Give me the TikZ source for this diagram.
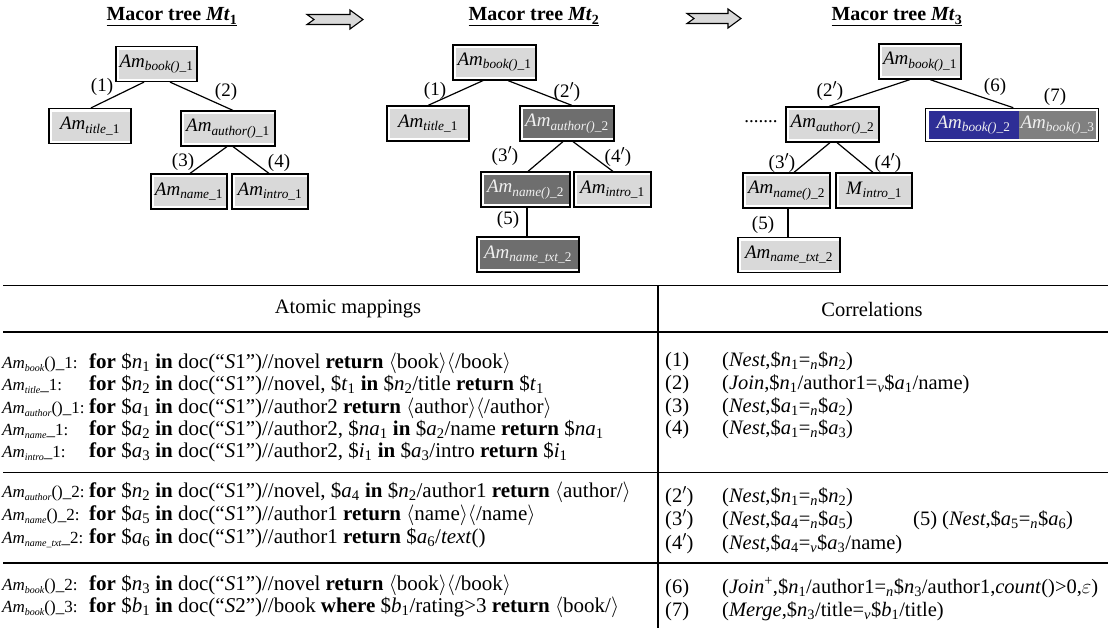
\documentclass[tikz,border=0pt]{standalone}
\usepackage{fontspec}
\setmainfont{Liberation Serif}
\usetikzlibrary{fit}
\definecolor{lgray}{RGB}{217,217,217}
\definecolor{dgray}{RGB}{110,110,110}
\definecolor{mgray}{RGB}{128,128,128}
\definecolor{nblue}{RGB}{46,46,150}
\definecolor{ltext}{RGB}{240,240,240}
\newcommand\myv[2]{\$\textit{#1}\textsubscript{#2}}
\newcommand\myeq[1]{=\textsubscript{\textit{#1}}}
\newcommand\mykw[1]{\textbf{#1}}
\newcommand\mylan{$\langle$}
\newcommand\myran{$\rangle$}
\newcommand\myam[2]{\makebox[87pt][l]{\fontsize{17}{18}\selectfont\textit{Am}\raisebox{-0.22em}{\fontsize{10}{11}\selectfont\textit{#1}}#2}}
\newcommand\mydoc[1]{doc(“\textit{S}#1”)}
\newcommand\mypr{$'$}
\newcommand\boxam[2]{\textit{Am}\textsubscript{\textit{#1}#2}}
\tikzset{
  amnode/.style={draw, line width=1.2pt, fill=white, minimum height=35pt, inner sep=0pt,
    font=\fontsize{19}{20}\selectfont,
    path picture={\fill[#1] ([shift={(2.5pt,-3pt)}]path picture bounding box.north west) rectangle ([shift={(-1.5pt,3pt)}]path picture bounding box.south east);}},
  amlight/.style={amnode=lgray},
  amdark/.style={amnode=dgray, text=ltext},
  conn/.style={line width=1.2pt},
  lab/.style={inner sep=0pt, font=\fontsize{19}{20}\selectfont},
  ttl/.style={inner sep=0pt, font=\fontsize{20}{22}\selectfont\bfseries},
  bigarrow/.style={fill=lgray, draw=black, line width=1.1pt, line join=miter},
  rule/.style={line width=1.5pt},
  tabtxt/.style={anchor=base west, inner sep=0pt, font=\fontsize{21}{22}\selectfont},
  cortxt/.style={anchor=base west, inner sep=0pt, font=\fontsize{20.5}{22}\selectfont},
  hdr/.style={inner sep=0pt, font=\fontsize{20.5}{22}\selectfont}
}
\begin{document}
\begin{tikzpicture}[x=1pt,y=-1pt]
\useasboundingbox (0,0) rectangle (1110,633);

% titles
\node[ttl] (tt1) at (172,17) {\underline{Macor tree \textit{Mt}\textsubscript{1}}};
\node[ttl] (tt2) at (534,17) {\underline{Macor tree \textit{Mt}\textsubscript{2}}};
\node[ttl] (tt3) at (897,17) {\underline{Macor tree \textit{Mt}\textsubscript{3}}};

% big arrows
\draw[bigarrow] (307,14.5) -- (350,14.5) -- (350,10) -- (363,19.5) -- (350,29) -- (350,24.5) -- (307,24.5) -- (314,19.5) -- cycle;
\draw[bigarrow] (687,13.5) -- (728,13.5) -- (728,9) -- (741,18.5) -- (728,28) -- (728,23.5) -- (687,23.5) -- (694,18.5) -- cycle;

% ---------- Mt1
\node[amlight, minimum width=81pt] (b1) at (156.5,64) {\boxam{book()\_}{1}};
\node[amlight, minimum width=82pt] (t1) at (90,126) {\boxam{title\_}{1}};
\node[amlight, minimum width=94pt] (a1) at (228,128.5) {\boxam{author()\_}{1}};
\node[amlight, minimum width=76pt] (n1) at (189,191.5) {\boxam{name\_}{1}};
\node[amlight, minimum width=76pt] (i1) at (270,191.5) {\boxam{intro\_}{1}};
\draw[conn] ([xshift=-12.5pt]b1.south) -- ([xshift=1pt]t1.north);
\draw[conn] ([xshift=13.5pt]b1.south) -- ([xshift=5pt]a1.north);
\draw[conn] ([xshift=-1pt]a1.south) -- ([xshift=1pt]n1.north);
\draw[conn] ([xshift=5pt]a1.south) -- ([xshift=-1pt]i1.north);
\node[lab] (l11) at (102,87) {(1)};
\node[lab] (l12) at (226,92) {(2)};
\node[lab] (l13) at (183,162) {(3)};
\node[lab] (l14) at (279,163) {(4)};

% ---------- Mt2
\node[amlight, minimum width=83pt] (b2) at (494.5,62.5) {\boxam{book()\_}{1}};
\node[amlight, minimum width=82pt] (t2) at (428,123.5) {\boxam{title\_}{1}};
\node[amdark, minimum width=94pt] (a2) at (567,123.5) {\boxam{author()\_}{2}};
\node[amdark, minimum width=89pt] (n2) at (525.5,189.5) {\boxam{name()\_}{2}};
\node[amlight, minimum width=77pt] (i2) at (612.5,189.5) {\boxam{intro\_}{1}};
\node[amdark, minimum width=102pt] (x2) at (528,254.5) {\boxam{name\_txt\_}{2}};
\draw[conn] ([xshift=-11.5pt]b2.south) -- (t2.north);
\draw[conn] ([xshift=13.5pt]b2.south) -- ([xshift=5pt]a2.north);
\draw[conn] ([xshift=-4pt]a2.south) -- ([xshift=2.5pt]n2.north);
\draw[conn] ([xshift=6pt]a2.south) -- ([xshift=0.5pt]i2.north);
\draw[conn] ([xshift=1.5pt]n2.south) -- ([xshift=1.5pt]n2.south |- x2.north);
\node[lab] (l21) at (435,91) {(1)};
\node[lab] (l22) at (567,92) {(2\mypr)};
\node[lab] (l23) at (505,156) {(3\mypr)};
\node[lab] (l24) at (618,157) {(4\mypr)};
\node[lab] (l25) at (508,220) {(5)};

% ---------- Mt3
\node[amlight, minimum width=82pt] (b3) at (920,61.5) {\boxam{book()\_}{1}};
\node[amlight, minimum width=93pt] (a3) at (832.5,124.5) {\boxam{author()\_}{2}};
\node[lab] (dots) at (761,122) {.......};
\node[fill=nblue, text=ltext, minimum width=90pt, minimum height=28pt, inner sep=0pt, font=\fontsize{19}{20}\selectfont] (bk2) at (973.5,125) {\boxam{book()\_}{2}};
\node[fill=mgray, text=ltext, minimum width=77pt, minimum height=28pt, inner sep=0pt, font=\fontsize{19}{20}\selectfont] (bk3) at (1057.5,125) {\boxam{book()\_}{3}};
\node[draw, line width=1.2pt, inner sep=2.5pt, fit=(bk2)(bk3)] (c3) {};
\node[amlight, minimum width=87pt] (n3) at (786.5,190.5) {\boxam{name()\_}{2}};
\node[amlight, minimum width=76pt] (i3) at (874,190.5) {\textit{M}\textsubscript{\textit{intro\_}1}};
\node[amlight, minimum width=102pt] (x3) at (789,255) {\boxam{name\_txt\_}{2}};
\draw[conn] ([xshift=-10pt]b3.south) -- ([xshift=-3.5pt]a3.north);
\draw[conn] ([xshift=10pt]b3.south) -- ([xshift=1pt]c3.north);
\draw[conn] ([xshift=-2.5pt]a3.south) -- ([xshift=7.5pt]n3.north);
\draw[conn] ([xshift=4.5pt]a3.south) -- ([xshift=-1pt]i3.north);
\draw[conn] ([xshift=1.5pt]n3.south) -- ([xshift=1.5pt]n3.south |- x3.north);
\node[lab] (l32) at (830,91) {(2\mypr)};
\node[lab] (l36) at (995,87) {(6)};
\node[lab] (l37) at (1055,97) {(7)};
\node[lab] (l33) at (782,163) {(3\mypr)};
\node[lab] (l34) at (888,163) {(4\mypr)};
\node[lab] (l35) at (763,225) {(5)};

% ---------- table rules
\draw[rule] (3,285.5) -- (1108,285.5);
\draw[rule] (3,332) -- (1108,332);
\draw[rule] (3,472.5) -- (1108,472.5);
\draw[rule] (3,563) -- (1108,563);
\draw[rule] (658,285.5) -- (658,628);

\node[hdr] (hA) at (348,309) {Atomic mappings};
\node[hdr] (hC) at (872,309) {Correlations};

% left column
\node[tabtxt] (r1) at (2,368) {\myam{book}{()\_1:}\mykw{for} \myv{n}{1} \mykw{in} \mydoc{1}//novel \mykw{return} \mylan book\myran\mylan/book\myran};
\node[tabtxt] (r2) at (2,390) {\myam{title}{\_1:}\mykw{for} \myv{n}{2} \mykw{in} \mydoc{1}//novel, \myv{t}{1} \mykw{in} \myv{n}{2}/title \mykw{return} \myv{t}{1}};
\node[tabtxt] (r3) at (2,413) {\myam{author}{()\_1:}\mykw{for} \myv{a}{1} \mykw{in} \mydoc{1}//author2 \mykw{return} \mylan author\myran\mylan/author\myran};
\node[tabtxt] (r4) at (2,435) {\myam{name}{\_1:}\mykw{for} \myv{a}{2} \mykw{in} \mydoc{1}//author2, \myv{na}{1} \mykw{in} \myv{a}{2}/name \mykw{return} \myv{na}{1}};
\node[tabtxt] (r5) at (2,457) {\myam{intro}{\_1:}\mykw{for} \myv{a}{3} \mykw{in} \mydoc{1}//author2, \myv{i}{1} \mykw{in} \myv{a}{3}/intro \mykw{return} \myv{i}{1}};

\node[tabtxt] (r6) at (2,497) {\myam{author}{()\_2:}\mykw{for} \myv{n}{2} \mykw{in} \mydoc{1}//novel, \myv{a}{4} \mykw{in} \myv{n}{2}/author1 \mykw{return} \mylan author/\myran};
\node[tabtxt] (r7) at (2,520) {\myam{name}{()\_2:}\mykw{for} \myv{a}{5} \mykw{in} \mydoc{1}//author1 \mykw{return} \mylan name\myran\mylan/name\myran};
\node[tabtxt] (r8) at (2,543) {\myam{name\_txt}{\_2:}\mykw{for} \myv{a}{6} \mykw{in} \mydoc{1}//author1 \mykw{return} \myv{a}{6}/\textit{text}()};

\node[tabtxt] (r9) at (2,590) {\myam{book}{()\_2:}\mykw{for} \myv{n}{3} \mykw{in} \mydoc{1}//novel \mykw{return} \mylan book\myran\mylan/book\myran};
\node[tabtxt] (r10) at (2,612) {\myam{book}{()\_3:}\mykw{for} \myv{b}{1} \mykw{in} \mydoc{2}//book \mykw{where} \myv{b}{1}/rating>3 \mykw{return} \mylan book/\myran};

% right column
\node[cortxt] (c1) at (665,366) {(1)};
\node[cortxt] (c1t) at (722,366) {(\textit{Nest},\myv{n}{1}\myeq{n}\myv{n}{2})};
\node[cortxt] (c2) at (665,389) {(2)};
\node[cortxt] (c2t) at (722,389) {(\textit{Join},\myv{n}{1}/author1\myeq{v}\myv{a}{1}/name)};
\node[cortxt] (c3l) at (665,412) {(3)};
\node[cortxt] (c3t) at (722,412) {(\textit{Nest},\myv{a}{1}\myeq{n}\myv{a}{2})};
\node[cortxt] (c4) at (665,434) {(4)};
\node[cortxt] (c4t) at (722,434) {(\textit{Nest},\myv{a}{1}\myeq{n}\myv{a}{3})};

\node[cortxt] (c5) at (665,502) {(2\mypr)};
\node[cortxt] (c5t) at (722,502) {(\textit{Nest},\myv{n}{1}\myeq{n}\myv{n}{2})};
\node[cortxt] (c6) at (665,525) {(3\mypr)};
\node[cortxt] (c6t) at (722,525) {(\textit{Nest},\myv{a}{4}\myeq{n}\myv{a}{5})};
\node[cortxt] (c6b) at (913,525) {(5) (\textit{Nest},\myv{a}{5}\myeq{n}\myv{a}{6})};
\node[cortxt] (c7) at (665,549) {(4\mypr)};
\node[cortxt] (c7t) at (722,549) {(\textit{Nest},\myv{a}{4}\myeq{v}\myv{a}{3}/name)};

\node[cortxt] (c8) at (665,593) {(6)};
\node[cortxt] (c8t) at (722,593) {(\textit{Join}\textsuperscript{+},\myv{n}{1}/author1\myeq{n}\myv{n}{3}/author1,\textit{count}()>0,$\varepsilon$)};
\node[cortxt] (c9) at (665,616) {(7)};
\node[cortxt] (c9t) at (722,616) {(\textit{Merge},\myv{n}{3}/title\myeq{v}\myv{b}{1}/title)};
\end{tikzpicture}
\end{document}
